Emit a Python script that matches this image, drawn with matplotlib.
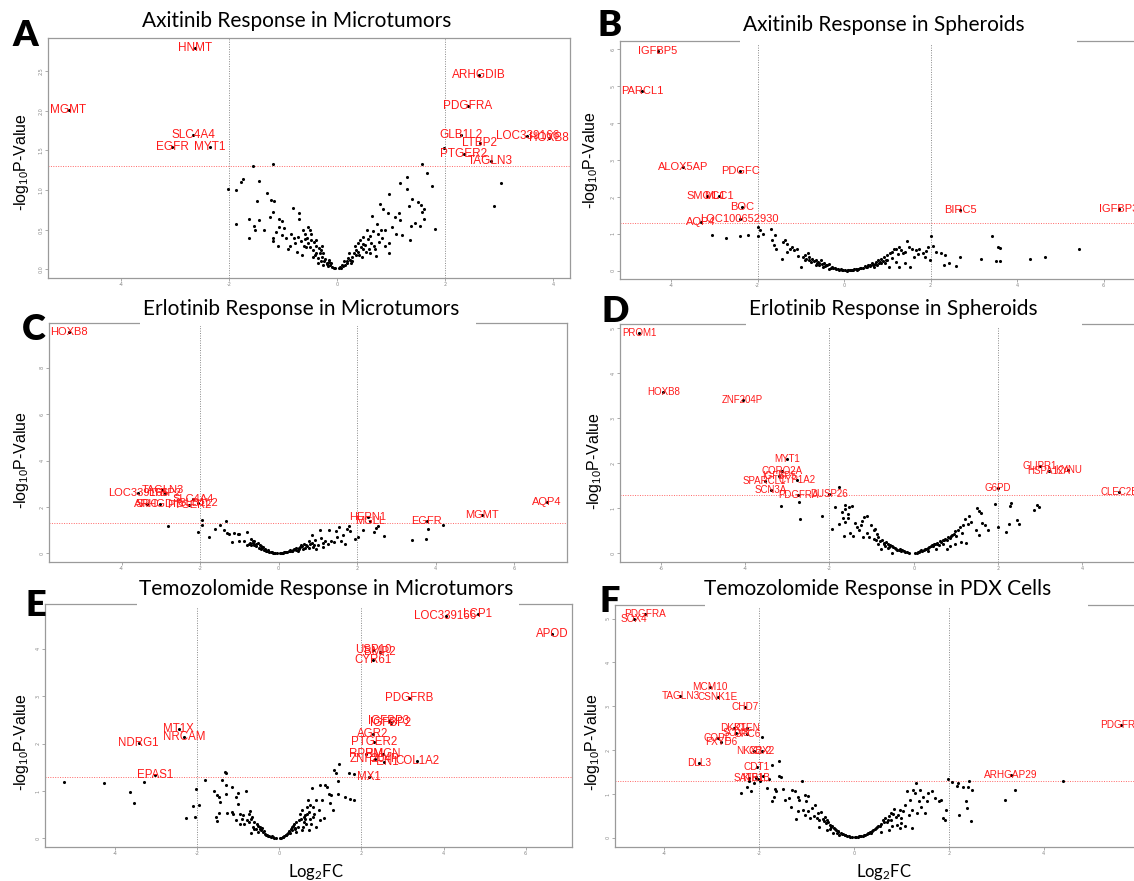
import numpy as np
import matplotlib.pyplot as plt
from matplotlib.patches import Rectangle

W, H = 1134, 881
plt.rcParams['mathtext.default'] = 'regular'

# ---------------- data (log2FC, -log10 p) ----------------
# A: Axitinib, microtumors
a_pts = [(-1.56,1.31),(-1.20,1.33),(-2.03,1.01),(-1.88,1.00),(-1.78,1.10),(-1.74,1.14),(-1.45,1.11),(-1.88,0.57),
         (-1.64,0.63),(-1.45,0.62),(-1.63,0.39),(-1.30,0.96),(-1.48,0.86),(-1.23,0.88),(-1.18,0.86),(-1.19,0.72),
         (-1.54,0.55),(-1.52,0.50),(-1.35,0.49),(-1.25,0.66),(-0.83,0.77),(-0.71,0.71),(-0.71,0.64),(-1.08,0.63),
         (-1.03,0.61),(-1.09,0.54),(-1.13,0.47),(-1.03,0.43),(-0.96,0.40),(-0.86,0.45),(-0.81,0.40),(-0.73,0.41),
         (-0.91,0.26),(-1.10,0.29),(-1.20,0.40),(-1.20,0.36),(-0.74,0.22),(-0.54,0.54),(-0.51,0.50),(-0.59,0.45),
         (-0.56,0.40),(-0.49,0.37),(-0.44,0.35),(-0.39,0.37),(-0.54,0.33),(-0.51,0.28),(-0.46,0.24),(-0.39,0.21),
         (-0.32,0.20),(-0.29,0.16),(-0.22,0.13),(-0.19,0.08),(-0.13,0.05),(-0.09,0.03),(-0.05,0.01),(-0.35,0.08),
         (-0.27,0.05),(-0.34,0.27),(-0.40,0.29),(-0.30,0.24),(-0.26,0.20),(-0.15,0.12),(-0.11,0.08),(-0.62,0.30),
         (-0.66,0.18),(-0.45,0.15),(-0.24,0.10),(-0.17,0.04),(-0.60,0.38),(-0.48,0.45),
         (-0.42,0.18),(-0.36,0.14),(-0.31,0.11),(-0.28,0.30),(-0.20,0.07),(-0.16,0.09),(-0.07,0.02),(-0.58,0.28),
         (-0.68,0.36),(-0.78,0.33),(-0.88,0.30),(-0.98,0.52),(-0.63,0.50),
         (1.56,1.33),(1.66,1.21),(1.29,1.17),(1.17,1.09),(1.29,1.01),(1.75,1.05),(0.96,0.95),(1.39,0.89),
         (1.49,0.85),(1.55,0.81),(1.33,0.80),(1.60,0.76),(1.56,0.72),(0.79,0.82),(0.85,0.76),(0.94,0.71),
         (1.06,0.66),(1.14,0.71),(1.17,0.62),(1.60,0.64),(1.44,0.58),(1.36,0.55),(1.53,0.55),(1.80,0.51),
         (1.19,0.43),(1.35,0.37),(0.81,0.50),(0.73,0.57),(0.65,0.67),(0.55,0.50),(0.48,0.41),(0.62,0.33),
         (0.72,0.17),(0.89,0.29),(0.96,0.33),(0.82,0.40),(0.42,0.37),(0.32,0.29),(0.38,0.22),(0.45,0.16),
         (0.28,0.16),(0.23,0.12),(0.18,0.08),(0.11,0.04),(0.07,0.02),(0.52,0.31),(0.57,0.38),(0.75,0.45),
         (0.48,0.26),(0.13,0.10),(0.22,0.20),(0.38,0.33),(0.61,0.20),(0.96,0.20),(0.89,0.50),(1.01,0.54),
         (1.08,0.45),(2.91,0.80),(3.04,1.09),(1.98,1.53),(0.03,0.01),(0.15,0.06),(0.27,0.10),(0.35,0.18),
         (0.58,0.25),(0.67,0.30),(0.44,0.28),
         (0.05,0.03),(0.09,0.06),(0.17,0.11),(0.20,0.14),(0.25,0.08),(0.30,0.20),(0.34,0.24),(0.40,0.18),
         (0.47,0.32),(0.53,0.22),(0.60,0.42),(0.66,0.48),(0.70,0.26),(0.78,0.35)]
a_genes = ['HNMT','MGMT','SLC4A4','EGFR','MYT1','ARHGDIB','PDGFRA','GLB1L2','LOC339166','HOXB8','LTBP2','PTGER2','TAGLN3']
a_gx = [-2.63,-4.98,-2.67,-3.06,-2.36,2.63,2.42,2.30,3.52,3.92,2.64,2.34,2.84]
a_gy = [2.79,2.01,1.69,1.55,1.54,2.45,2.06,1.70,1.68,1.66,1.60,1.45,1.37]

# B: Axitinib, spheroids
b_pts = [(-3.06,0.98),(-2.72,0.90),(-2.40,0.95),(-2.21,0.98),(-2.00,0.95),(-1.99,1.19),(-1.94,1.10),(-1.88,1.01),
         (-1.68,1.14),(-1.67,0.83),(-1.60,0.96),(-1.63,0.69),(-1.57,0.60),(-1.43,0.33),(-1.41,0.78),(-1.37,0.83),
         (-1.33,0.72),(-1.31,0.51),(-1.25,0.60),(-1.20,0.65),(-1.16,0.56),(-1.08,0.60),(-1.06,0.40),(-0.99,0.11),
         (-0.91,0.42),(-0.84,0.47),(-0.81,0.38),(-0.74,0.33),(-0.66,0.29),(-0.61,0.24),(-0.57,0.22),(-0.53,0.29),
         (-0.47,0.20),(-0.40,0.15),(-0.34,0.18),(-0.28,0.11),(-0.22,0.09),(-0.15,0.05),(-0.08,0.04),(-0.03,0.01),
         (-0.81,0.29),(-0.87,0.33),(-0.95,0.38),(-0.66,0.15),(-0.49,0.11),(-0.36,0.06),(-0.70,0.26),(-0.58,0.17),
         (-0.44,0.13),(-0.25,0.07),(-0.12,0.02),
         (-0.30,0.09),(-0.18,0.06),(-0.05,0.03),(-0.42,0.16),(-0.52,0.19),(-0.63,0.21),(-0.76,0.24),(-0.90,0.30),
         (0.06,0.00),(0.14,0.02),(0.23,0.04),(0.31,0.06),(0.40,0.09),(0.48,0.13),(0.56,0.15),(0.65,0.20),
         (0.73,0.24),(0.79,0.29),(0.86,0.33),(0.93,0.38),(0.99,0.42),(1.05,0.47),(1.11,0.51),(1.15,0.58),
         (1.20,0.60),(1.26,0.65),(1.32,0.56),(1.36,0.47),(1.45,0.81),(1.49,0.65),(1.57,0.60),(1.62,0.38),
         (1.66,0.56),(1.74,0.60),(1.83,0.47),(1.87,0.38),(1.95,0.65),(1.99,0.29),(2.01,0.94),(2.05,0.67),
         (2.12,0.51),(2.25,0.47),(2.33,0.42),(2.32,0.15),(2.42,0.20),(2.59,0.13),(2.67,0.38),(3.17,0.33),
         (3.41,0.94),(3.55,0.65),(3.61,0.62),(3.51,0.27),(3.60,0.27),(4.29,0.33),(4.65,0.38),(5.42,0.60),
         (0.94,0.20),(1.03,0.11),(0.86,0.20),(0.77,0.15),(0.69,0.11),(1.20,0.24),(1.28,0.11),(1.41,0.20),
         (1.53,0.11),(0.10,0.01),(0.19,0.03),(0.27,0.05),(0.36,0.08),(0.52,0.10),(0.61,0.16),(0.83,0.25),
         (1.00,0.30),(1.10,0.36),(1.24,0.45),(1.40,0.50),(1.70,0.45),(1.90,0.55),
         (0.02,0.01),(0.08,0.02),(0.17,0.02),(0.21,0.01),(0.29,0.03),(0.33,0.05),(0.44,0.07),(0.50,0.11),
         (0.59,0.13),(0.67,0.16),(0.71,0.19),(0.81,0.22),(0.90,0.26),(0.97,0.29)]
b_genes = ['IGFBP5','PARCL1','ALOX5AP','PDGFC','SMOC1','MLC1','BOC','LOC100652930','AQP4','BIRC5','IGFBP3']
b_gx = [-4.30,-4.66,-3.72,-2.40,-3.18,-2.89,-2.35,-2.41,-3.31,2.69,6.35]
b_gy = [5.96,4.87,2.80,2.70,2.03,2.03,1.73,1.40,1.33,1.64,1.68]

# C: Erlotinib, microtumors
c_pts = [(-2.82,1.19),(-1.95,1.45),(-1.94,1.21),(-2.05,0.91),(-1.78,0.69),(-1.62,1.04),(-1.48,1.24),(-1.33,1.38),
         (-1.39,1.02),(-1.31,0.88),(-1.27,0.83),(-1.18,0.49),(-1.13,0.86),(-1.04,0.83),(-1.02,0.52),(-1.00,0.85),
         (-0.88,0.52),(-0.81,0.91),(-0.76,0.40),(-0.71,0.63),(-0.64,0.52),(-0.62,0.37),(-0.57,0.30),(-0.51,0.23),
         (-0.44,0.20),(-0.36,0.16),(-0.30,0.09),(-0.20,0.04),(-0.11,0.01),(-0.48,0.37),(-0.39,0.27),(-0.27,0.16),
         (-0.62,0.55),(-0.53,0.45),(-0.69,0.35),(-0.81,0.35),(-0.58,0.40),(-0.45,0.30),(-0.33,0.12),(-0.24,0.07),
         (-0.15,0.03),(-0.05,0.00),
         (-0.42,0.24),(-0.35,0.21),(-0.28,0.12),(-0.18,0.06),(-0.08,0.02),(-0.66,0.44),(-0.74,0.47),
         (0.07,0.01),(0.17,0.06),(0.26,0.09),(0.35,0.12),(0.44,0.16),(0.51,0.23),(0.58,0.35),(0.66,0.40),
         (0.72,0.30),(0.77,0.52),(0.84,0.78),(0.86,0.45),(0.94,0.59),(1.00,0.37),(1.05,0.99),(1.09,0.66),
         (1.14,0.45),(1.19,0.52),(1.28,1.02),(1.34,0.52),(1.40,0.49),(1.46,0.98),(1.53,1.14),(1.60,0.55),
         (1.65,0.81),(1.69,0.40),(1.74,1.06),(1.79,1.17),(1.83,0.95),(1.95,0.63),(2.02,0.69),(2.14,0.99),
         (2.42,0.91),(2.48,1.09),(2.53,1.17),(2.69,0.73),(3.41,0.59),(3.76,0.62),(3.81,1.06),(4.18,1.24),
         (0.77,0.23),(0.95,0.20),(1.14,0.26),(0.63,0.20),(0.49,0.09),(0.12,0.03),(0.22,0.05),(0.30,0.12),
         (0.40,0.20),(0.55,0.28),(0.68,0.25),(0.90,0.35),(1.25,0.40),(1.50,0.70),
         (0.03,0.00),(0.10,0.02),(0.15,0.04),(0.20,0.07),(0.28,0.13),(0.33,0.09),(0.38,0.15),(0.45,0.22),
         (0.53,0.18),(0.60,0.30),(0.70,0.35),(0.80,0.40),(0.88,0.28)]
c_genes = ['HOXB8','LOC339166','TAGLN3','LTBP2','SLC4A4','SRC','ARHGDIB','PTGER2','GLB1L2',
           'AQP4','MGMT','EGFR','HEPN1','MGLL']
c_gx = [-5.35,-3.58,-2.96,-2.90,-2.19,-3.35,-3.03,-2.27,-2.06,6.84,5.19,3.78,2.28,2.34]
c_gy = [9.53,2.60,2.75,2.62,2.36,2.14,2.14,2.07,2.19,2.20,1.67,1.40,1.57,1.38]

# D: Erlotinib, spheroids
d_pts = [(-3.15,1.05),(-2.72,1.14),(-2.70,0.75),(-2.18,0.83),(-1.93,0.54),(-1.86,1.02),(-1.78,1.46),(-1.77,0.65),
         (-1.71,0.91),(-1.68,0.78),(-1.64,1.08),(-1.62,0.99),(-1.57,0.88),(-1.56,0.78),(-1.53,1.03),(-1.47,1.05),
         (-1.66,0.39),(-1.64,0.69),(-1.51,0.45),(-1.43,0.39),(-1.40,0.67),(-1.34,0.58),(-1.30,0.51),(-1.25,0.62),
         (-1.23,0.71),(-1.17,0.80),(-1.11,0.83),(-1.21,0.36),(-1.12,0.45),(-1.05,0.36),(-1.01,0.62),(-0.95,0.51),
         (-0.91,0.54),(-0.88,0.43),(-0.85,0.36),(-0.78,0.10),(-0.76,0.28),(-0.71,0.23),(-0.65,0.25),(-0.60,0.19),
         (-0.56,0.17),(-0.52,0.16),(-0.48,0.13),(-0.43,0.10),(-0.36,0.07),(-0.30,0.05),(-0.24,0.04),(-0.17,0.02),
         (-0.10,0.01),(-0.52,0.01),(-0.67,0.16),(-0.85,0.21),(-0.95,0.32),(-0.40,0.06),(-0.62,0.12),
         (-0.20,0.03),(-0.27,0.06),(-0.33,0.08),(-0.45,0.12),(-0.58,0.14),(-0.70,0.19),(-0.80,0.26),(-0.90,0.30),
         (0.07,0.01),(0.16,0.04),(0.24,0.07),(0.30,0.10),(0.37,0.13),(0.43,0.17),(0.50,0.21),(0.56,0.23),
         (0.62,0.26),(0.69,0.28),(0.74,0.32),(0.82,0.36),(0.88,0.39),(0.95,0.43),(0.99,0.48),(1.05,0.51),
         (1.11,0.58),(1.17,0.62),(1.21,0.75),(1.28,0.65),(1.31,0.83),(1.37,0.69),(1.49,0.51),(1.50,1.00),
         (1.56,0.93),(1.60,0.89),(1.62,0.66),(1.56,0.41),(1.68,0.63),(1.77,0.51),(1.92,1.10),(2.00,0.57),
         (2.19,0.47),(2.27,0.65),(2.29,1.05),(2.32,1.12),(2.46,0.74),(2.50,0.65),(2.85,0.95),(2.92,1.06),
         (2.98,1.02),(0.69,0.21),(0.86,0.16),(0.99,0.21),(1.12,0.25),(1.25,0.23),(0.78,0.10),(0.52,0.10),
         (0.35,0.04),(0.12,0.02),(0.20,0.05),(0.46,0.15),(0.60,0.18),(0.80,0.30),(1.00,0.38),(1.15,0.45),
         (0.03,0.00),(0.10,0.03),(0.18,0.06),(0.27,0.08),(0.33,0.12),(0.40,0.15),(0.48,0.19),(0.55,0.20),
         (0.65,0.24),(0.72,0.30),(0.85,0.33),(0.92,0.40)]
d_genes = ['PROM1','HOXB8','ZNF204P','MYT1','CORO2A','IGFBP5','SPARCL1','CYP1A2','SCN3A','PDGFRA','DUSP26',
           'G6PD','GLIPR1','HSPA12A','KYNU','CLEC2B']
d_gx = [-6.52,-5.94,-4.06,-3.01,-3.13,-3.20,-3.54,-2.76,-3.39,-2.74,-2.01,2.00,2.99,3.20,3.67,4.88]
d_gy = [4.91,3.58,3.40,2.10,1.83,1.72,1.61,1.62,1.40,1.30,1.31,1.45,1.93,1.83,1.84,1.36]

# E: Temozolomide, microtumors
e_pts = [(-5.24,1.18),(-4.28,1.16),(-3.65,0.98),(-3.53,0.75),(-3.31,1.20),(-2.27,0.44),(-2.05,0.46),(-2.11,0.68),
         (-2.02,1.04),(-1.96,0.70),(-1.82,1.23),(-1.59,1.00),(-1.53,0.92),(-1.55,0.45),(-1.53,0.37),(-1.46,0.87),
         (-1.44,0.77),(-1.46,0.54),(-1.40,1.23),(-1.33,1.39),(-1.29,1.37),(-1.31,1.13),(-1.29,0.94),(-1.27,0.54),
         (-1.15,1.08),(-1.12,0.52),(-1.06,0.87),(-1.01,0.72),(-1.00,0.96),(-0.97,0.52),(-0.92,0.42),(-0.88,0.49),
         (-0.82,1.01),(-0.79,0.39),(-0.75,0.52),(-0.72,0.58),(-0.70,0.11),(-0.66,0.45),(-0.61,0.35),(-0.57,0.20),
         (-0.52,0.27),(-0.48,0.24),(-0.44,0.17),(-0.39,0.13),(-0.35,0.10),(-0.28,0.06),(-0.21,0.04),(-0.15,0.03),
         (-0.08,0.01),(-0.61,0.20),(-0.51,0.13),(-1.06,0.38),(-0.97,0.31),(-0.75,0.35),(-1.15,0.56),(-0.33,0.08),
         (-0.25,0.05),(-0.12,0.02),(-0.42,0.22),
         (-0.18,0.05),(-0.30,0.08),(-0.37,0.15),(-0.46,0.20),(-0.55,0.30),(-0.64,0.25),(-0.68,0.40),(-0.85,0.30),
         (0.05,0.02),(0.12,0.06),(0.19,0.10),(0.23,0.15),(0.28,0.20),(0.32,0.24),(0.36,0.30),(0.41,0.35),
         (0.45,0.24),(0.50,0.52),(0.52,0.42),(0.56,0.59),(0.59,0.35),(0.63,0.49),(0.68,0.66),(0.70,0.80),
         (0.72,0.56),(0.74,0.42),(0.76,0.31),(0.79,1.07),(0.81,0.66),(0.85,0.52),(0.90,0.80),(0.97,0.59),
         (1.00,1.13),(1.05,0.80),(1.08,0.43),(1.12,1.12),(1.16,1.08),(1.21,0.94),(1.24,0.75),(1.27,0.91),
         (1.30,0.59),(1.34,1.44),(1.39,1.37),(1.43,1.21),(1.45,1.56),(1.43,0.94),(1.59,0.87),(1.70,1.38),
         (1.72,0.84),(1.83,1.35),(1.83,0.82),(0.99,0.38),(0.90,0.24),(0.72,0.17),(0.54,0.17),(0.41,0.13),
         (0.08,0.03),(0.15,0.08),(0.25,0.12),(0.38,0.22),(0.60,0.45),(0.65,0.30),
         (0.02,0.01),(0.10,0.04),(0.17,0.08),(0.21,0.12),(0.30,0.18),(0.34,0.27),(0.39,0.20),(0.47,0.38),
         (0.57,0.25),(0.62,0.40),(0.67,0.52),(0.75,0.70),(0.83,0.45)]
e_genes = ['LOC339166','LCP1','APOD','USP10','BMP2','CYR61','PDGFRB','IGFBP3','IGFBP2','AGR2','PTGER2',
           'RPRM','HMGN','ZNF204P','FEN1','COL1A2','MX1','EPAS1','NDRG1','MT1X','NRCAM']
e_gx = [4.05,4.83,6.64,2.29,2.44,2.29,3.16,2.66,2.72,2.28,2.30,2.11,2.52,2.32,2.54,3.36,2.19,-3.03,-3.43,-2.45,-2.32]
e_gy = [4.69,4.73,4.30,3.97,3.92,3.77,2.95,2.47,2.44,2.20,2.04,1.79,1.79,1.68,1.61,1.63,1.30,1.34,2.01,2.30,2.13]

# F: Temozolomide, PDX cells
f_pts = [(-2.38,1.02),(-2.26,1.16),(-2.22,1.29),(-2.17,1.07),(-2.11,1.25),(-2.07,1.38),(-2.03,1.34),(-1.99,1.29),
         (-1.94,2.31),(-1.92,1.40),(-1.84,1.13),(-1.80,1.34),(-1.74,0.85),(-1.72,1.65),(-1.69,0.93),(-1.66,1.11),
         (-1.65,1.06),(-1.59,1.75),(-1.59,1.40),(-1.53,1.38),(-1.49,1.11),(-1.46,0.87),(-1.38,0.90),(-1.33,0.70),
         (-1.30,1.08),(-1.25,1.06),(-1.22,0.44),(-1.19,0.94),(-1.15,0.87),(-1.10,1.29),(-1.07,0.64),(-1.03,0.98),
         (-1.02,0.83),(-0.97,0.96),(-0.96,0.60),(-0.92,0.45),(-0.88,0.68),(-0.84,0.49),(-0.82,0.75),(-0.77,0.56),
         (-0.73,0.40),(-0.69,0.58),(-0.65,0.43),(-0.61,0.47),(-0.59,0.33),(-0.56,0.41),(-0.51,0.30),(-0.46,0.26),
         (-0.42,0.22),(-0.38,0.18),(-0.33,0.14),(-0.28,0.12),(-0.23,0.09),(-0.18,0.06),(-0.11,0.03),(-0.05,0.02),
         (-0.73,0.24),(-0.57,0.18),(-0.44,0.12),(-0.31,0.07),(-1.03,0.52),(-1.19,0.60),(-0.15,0.04),(-0.26,0.08),
         (-0.36,0.11),(-0.50,0.20),
         (-0.08,0.02),(-0.20,0.07),(-0.34,0.16),(-0.40,0.20),(-0.48,0.24),(-0.54,0.35),(-0.63,0.38),(-0.79,0.45),
         (0.04,0.02),(0.11,0.03),(0.19,0.05),(0.27,0.09),(0.34,0.14),(0.41,0.18),(0.46,0.22),(0.51,0.26),
         (0.57,0.32),(0.61,0.41),(0.65,0.45),(0.69,0.35),(0.73,0.49),(0.77,0.41),(0.79,0.56),(0.84,0.65),
         (0.88,0.47),(0.92,0.52),(0.96,0.64),(1.00,0.33),(1.03,0.60),(1.07,0.75),(1.11,1.06),(1.15,0.52),
         (1.19,0.87),(1.23,0.64),(1.25,1.08),(1.28,1.02),(1.30,1.26),(1.33,0.56),(1.36,0.83),(1.40,1.10),
         (1.42,0.71),(1.46,0.94),(1.49,0.56),(1.53,0.83),(1.57,1.02),(1.65,1.06),(1.71,0.90),(1.80,0.83),
         (1.84,0.87),(1.88,0.45),(1.94,0.64),(1.92,0.41),(1.99,1.35),(2.07,1.27),(2.17,1.19),(2.20,1.25),
         (2.22,0.52),(2.30,1.16),(2.36,0.85),(2.39,0.69),(2.40,1.16),(2.43,1.29),(2.47,0.39),(2.49,1.08),
         (3.18,0.87),(3.39,1.08),(4.41,1.29),(0.80,0.26),(0.96,0.22),(1.07,0.26),(0.57,0.14),(0.73,0.18),
         (1.23,0.22),(0.08,0.02),(0.15,0.04),(0.23,0.07),(0.31,0.11),(0.38,0.16),(0.90,0.30),
         (0.02,0.01),(0.13,0.04),(0.21,0.06),(0.29,0.10),(0.36,0.12),(0.44,0.20),(0.49,0.24),(0.55,0.28),
         (0.63,0.36),(0.71,0.40),(0.82,0.55),(0.98,0.45)]
f_genes = ['PDGFRA','SOX4','MCM10','TAGLN3','CSNK1E','CHD7','DKK1','PTEN','SOX8','GPC6','COPE','FXYD6',
           'NKX2-2','CBX2','DLL3','CDT1','SATB1','KIF1B','ARHGAP29','PDGFRB']
f_gx = [-4.41,-4.64,-3.03,-3.66,-2.87,-2.30,-2.54,-2.26,-2.49,-2.26,-2.87,-2.80,-2.11,-1.95,-3.27,-2.05,-2.22,-2.07,3.30,5.63]
f_gy = [5.10,5.00,3.45,3.23,3.22,2.98,2.50,2.50,2.40,2.37,2.27,2.18,1.99,1.99,1.70,1.62,1.36,1.36,1.44,2.57]

titles = ['Axitinib Response in Microtumors', 'Axitinib Response in Spheroids',
          'Erlotinib Response in Microtumors', 'Erlotinib Response in Spheroids',
          'Temozolomide Response in Microtumors', 'Temozolomide Response in PDX Cells']
letters = ['A', 'B', 'C', 'D', 'E', 'F']

# ---------------- figure ----------------
fig = plt.figure(figsize=(W / 100, H / 100), dpi=100)


def px_rect(l, t, r, b):
    return [l / W, 1 - b / H, (r - l) / W, (b - t) / H]


def volcano(box, xlim, ylim, xticks, yticks, pts, genes, gx, gy, fs, yfmt='{:g}'):
    ax = fig.add_axes(px_rect(*box))
    pts = np.array(pts)
    ax.scatter(pts[:, 0], pts[:, 1], s=5, c='black', lw=0, zorder=3)
    ax.scatter(gx, gy, s=5, c='black', lw=0, zorder=3)
    for g, x, y in zip(genes, gx, gy):
        ax.text(x, y, g, color='#ff1a1a', fontsize=fs, ha='center', va='center',
                family='Liberation Sans', zorder=4)
    ax.axvline(-2, color='#888888', ls=(0, (1, 1.5)), lw=0.7, zorder=1)
    ax.axvline(2, color='#888888', ls=(0, (1, 1.5)), lw=0.7, zorder=1)
    ax.axhline(-np.log10(0.05), color='#ff6666', ls=(0, (1, 1.5)), lw=0.7, zorder=1)
    ax.set_xlim(xlim)
    ax.set_ylim(ylim)
    ax.set_xticks(xticks)
    ax.set_xticklabels([f'{t:g}' for t in xticks])
    ax.set_yticks(yticks)
    ax.set_yticklabels([yfmt.format(t) for t in yticks], rotation=90, va='center')
    ax.tick_params(length=2, width=0.5, colors='#888888', labelsize=3.5, pad=1)
    for s in ax.spines.values():
        s.set_color('#9a9a9a')
        s.set_linewidth(0.9)
    return ax


volcano((48, 38, 570, 278), (-5.36, 4.31), (-0.11, 2.92), [-4, -2, 0, 2, 4],
        [0, 0.5, 1, 1.5, 2, 2.5], a_pts, a_genes, a_gx, a_gy, 8.5, '{:.1f}')
volcano((620, 41, 1140, 279), (-5.18, 6.84), (-0.22, 6.22), [-4, -2, 0, 2, 4, 6],
        [0, 1, 2, 3, 4, 5, 6], b_pts, b_genes, b_gx, b_gy, 8)
volcano((49, 323, 567, 562), (-5.85, 7.35), (-0.37, 9.93), [-4, -2, 0, 2, 4, 6],
        [0, 2, 4, 6, 8], c_pts, c_genes, c_gx, c_gy, 8)
volcano((620, 324, 1140, 562), (-6.97, 5.37), (-0.20, 5.10), [-6, -4, -2, 0, 2, 4],
        [0, 1, 2, 3, 4, 5], d_pts, d_genes, d_gx, d_gy, 7)
volcano((45, 604, 572, 847), (-5.71, 7.13), (-0.18, 4.94), [-4, -2, 0, 2, 4, 6],
        [0, 1, 2, 3, 4], e_pts, e_genes, e_gx, e_gy, 8.3)
volcano((615, 605, 1140, 847), (-5.04, 6.03), (-0.21, 5.31), [-4, -2, 0, 2, 4],
        [0, 1, 2, 3, 4, 5], f_pts, f_genes, f_gx, f_gy, 7.2)

# white boxes behind the titles (they sit over the top frame)
for x0, x1, y0, y1 in [(740, 1077, 5, 44), (140, 476, 292, 326), (746, 1082, 292, 327),
                       (137, 519, 575, 607), (705, 1088, 575, 608)]:
    fig.add_artist(Rectangle((x0 / W, 1 - y1 / H), (x1 - x0) / W, (y1 - y0) / H,
                             transform=fig.transFigure, facecolor='white', edgecolor='none', zorder=5))

# titles, letters, axis labels
title_pos = [(297, 21), (884, 25), (301, 309), (893, 309), (326, 589), (878, 589)]
for t, (x, y) in zip(titles, title_pos):
    fig.text(x / W, 1 - y / H, t, fontsize=15, family='Lato', ha='center', va='center', zorder=6)

letter_pos = [(12, 35), (598, 25), (22, 329), (601, 312), (25, 605), (600, 601)]
for t, (x, y) in zip(letters, letter_pos):
    fig.text(x / W, 1 - y / H, t, fontsize=26, family='Lato', fontweight='heavy',
             ha='left', va='center', zorder=7)

ylab_pos = [(22, 162), (590, 160), (22, 460), (594, 461), (22, 742), (592, 742)]
for x, y in ylab_pos:
    fig.text(x / W, 1 - y / H, '-log$_{10}$P-Value', fontsize=11.5, family='Liberation Sans',
             rotation=90, ha='center', va='center', zorder=6)

for x in (316, 884):
    fig.text(x / W, 1 - 872 / H, 'Log$_2$FC', fontsize=12, family='Lato',
             ha='center', va='center', zorder=6)

fig.savefig('out.png', dpi=100, facecolor='white')
